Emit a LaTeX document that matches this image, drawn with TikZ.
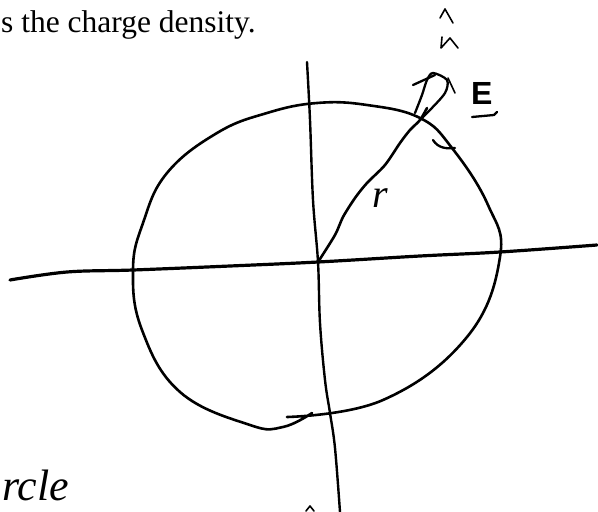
\documentclass[tikz,border=0pt]{standalone}
\usepackage{fontspec}
\setmainfont{Liberation Serif}
\newfontfamily\sansE{Liberation Sans}
\begin{document}
\begin{tikzpicture}[x=1pt,y=-1pt,
  pen/.style={line width=2.6pt,line cap=round,line join=round,black},
  thinpen/.style={line width=2.3pt,line cap=round,line join=round,black},
  fine/.style={line width=1.6pt,line cap=round,line join=round,black}]
\useasboundingbox (0,0) rectangle (598,512);

% heading text
\node[anchor=base west,inner sep=0pt,font=\fontsize{31.5}{35}\selectfont] (head) at (1,32) {s the charge density.};

% origin
\coordinate (O) at (318,262);

% horizontal axis
\draw[pen,line width=3.2pt] plot[smooth,tension=0.6] coordinates {(10,280) (67,272) (133,270) (230,266) (O) (420,256) (500,252) (597,245)};
% vertical axis
\draw[pen,line width=2.4pt] plot[smooth,tension=0.6] coordinates {(307,62) (310,120) (313,200) (O) (320,323) (325,380) (330,413) (335,448) (340,512)};

% circle (hand drawn, overlapping at the bottom)
\draw[pen] plot[smooth,tension=0.7] coordinates {
 (287,417) (383,400) (467,337) (500,257) (488,205) (452,148) (420,118) (367,105)
 (317,103) (267,113) (217,133) (167,173) (143,223) (133,270) (142,330) (180,392)
 (250,425) (283,427) (312,413)};

% radius with hand drawn arrowhead
\draw[pen] plot[smooth,tension=0.5] coordinates {(O) (335,235) (343,217) (355,198) (367,183) (385,165) (400,143) (410,130) (420,120) (427,108)};
\draw[thinpen] plot[smooth,tension=0.5] coordinates {(415,113) (422,95) (427,80) (433,73) (447,80) (445,93) (430,110) (420,120)};
\draw[thinpen] (413,85) -- (435,75);
\draw[fine] (448,78) -- (455,93);

% r label
\node[inner sep=0pt,font=\fontsize{40}{44}\selectfont\itshape] (r) at (380,198) {r};

% E vector label
\node[inner sep=0pt,anchor=base west,font=\sansE\bfseries\fontsize{32}{36}\selectfont] (E) at (471,104) {E};
\draw[thinpen] (472,117) -- (494,115) -- (497,112);

% small tick near the circle
\draw[thinpen] (433,140) .. controls (438,148) and (446,149) .. (455,148);

% hats at top
\draw[fine] (440,18) -- (445,9) -- (453,23);
\draw[fine] (442,37) -- (441,48) -- (450,38) -- (458,48);

% small mark at the bottom
\draw[fine] (306,511) -- (310,506) -- (314,511);

% handwritten word fragment
\node[anchor=base west,inner sep=0pt,font=\fontsize{44}{48}\selectfont\itshape] (word) at (2,500) {rcle};
\end{tikzpicture}
\end{document}
